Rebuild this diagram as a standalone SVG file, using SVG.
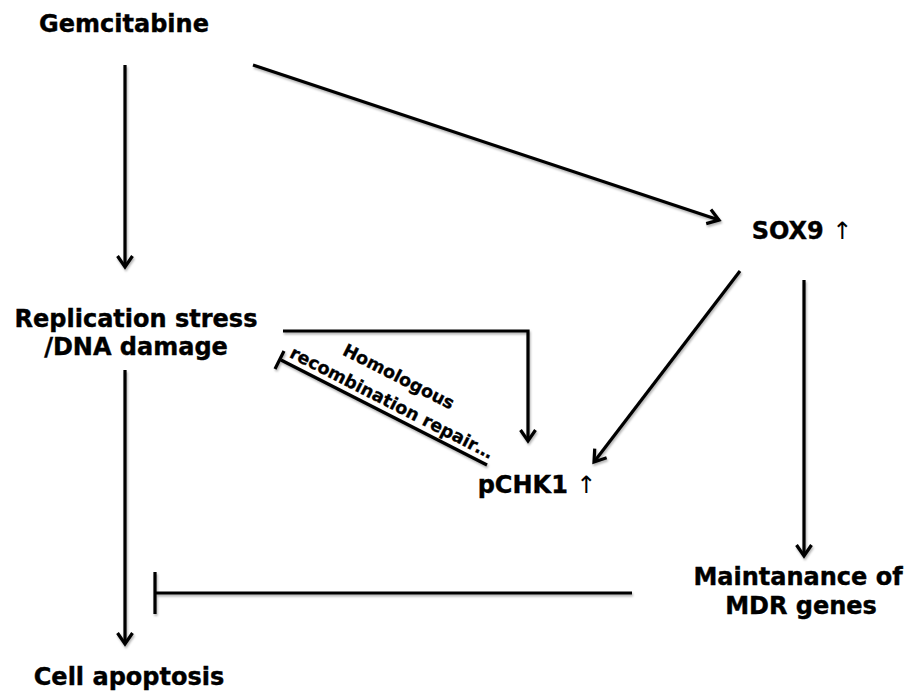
<svg xmlns="http://www.w3.org/2000/svg" width="913" height="699" viewBox="0 0 913 699">
<style>
.lbl{font-family:"DejaVu Sans",Verdana,sans-serif;font-weight:bold;font-size:24px;fill:#000;stroke:#000;stroke-width:0.4;text-anchor:middle}
.up{font-weight:normal;stroke-width:0}
.small{font-family:"DejaVu Sans",Verdana,sans-serif;font-weight:bold;font-size:17.5px;fill:#000;stroke:#000;stroke-width:0.3;text-anchor:middle}
.ln{stroke:#000;stroke-width:3.2;fill:none}
</style>
<defs>
<marker id="arr" markerUnits="userSpaceOnUse" markerWidth="30" markerHeight="30" viewBox="-15 -15 30 30" refX="0" refY="0" orient="auto">
<path d="M-11,-7.5 L0,0 L-11,7.5" fill="none" stroke="#000" stroke-width="3.2" stroke-linejoin="miter"/>
</marker>
<filter id="sh" x="-10%" y="-10%" width="120%" height="120%">
<feDropShadow dx="1" dy="2" stdDeviation="1.2" flood-color="#000" flood-opacity="0.3"/>
</filter>
</defs>
<rect width="913" height="699" fill="#fff"/>
<g id="connectors" filter="url(#sh)">
<line class="ln" x1="125" y1="65" x2="125" y2="267" marker-end="url(#arr)"/>
<line class="ln" x1="253" y1="65" x2="719" y2="220" marker-end="url(#arr)"/>
<polyline class="ln" points="283,331 528,331 528,441" marker-end="url(#arr)"/>
<line class="ln" x1="740" y1="271" x2="594" y2="462" marker-end="url(#arr)"/>
<line class="ln" x1="804" y1="280" x2="804" y2="556" marker-end="url(#arr)"/>
<line class="ln" x1="125" y1="370" x2="125" y2="644" marker-end="url(#arr)"/>
<line class="ln" x1="632" y1="593" x2="155" y2="593"/>
<line class="ln" x1="155" y1="572" x2="155" y2="614"/>
<line class="ln" x1="487" y1="465" x2="281" y2="360"/>
<line class="ln" x1="284" y1="351" x2="275" y2="369"/>
</g>
<g id="gemcitabine"><text class="lbl" x="124" y="32">Gemcitabine</text></g>
<g id="replication"><text class="lbl" x="136" y="327">Replication stress</text><text class="lbl" x="136" y="355">/DNA damage</text></g>
<g id="sox9"><text class="lbl" x="802" y="239">SOX9 <tspan class="up">↑</tspan></text></g>
<g id="pchk1"><text class="lbl" x="537" y="493">pCHK1 <tspan class="up">↑</tspan></text></g>
<g id="mdr"><text class="lbl" x="798" y="585">Maintanance of</text><text class="lbl" x="801" y="614">MDR genes</text></g>
<g id="apoptosis"><text class="lbl" x="129" y="685">Cell apoptosis</text></g>
<g id="hr-label">
<text class="small" transform="translate(396,382) rotate(27)">Homologous</text>
<text class="small" transform="translate(389,408) rotate(27)">recombination repair…</text>
</g>
</svg>
